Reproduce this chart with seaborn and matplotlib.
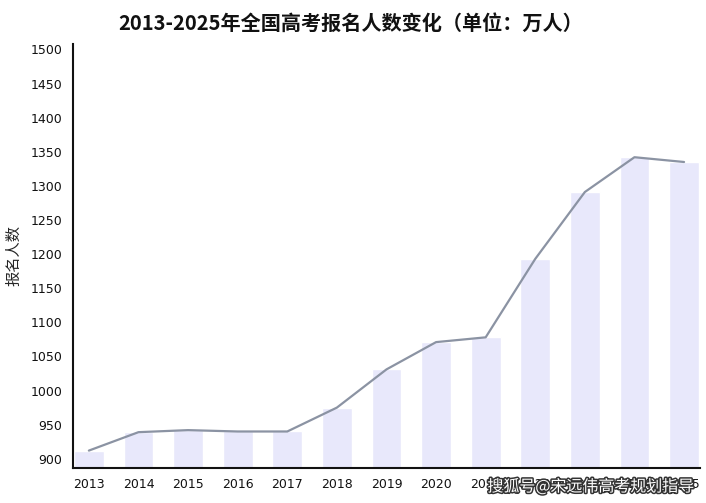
import numpy as np
import pandas as pd
import matplotlib
matplotlib.use("Agg")
import matplotlib.pyplot as plt
import matplotlib.patheffects as pe
import seaborn as sns

# data (万人)
years = ['2013', '2014', '2015', '2016', '2017', '2018', '2019',
         '2020', '2021', '2022', '2023', '2024', '2025']
applicants = [912, 939, 942, 940, 940, 975, 1031, 1071, 1078, 1193, 1291, 1342, 1335]
yticks = list(range(900, 1501, 50))

df = pd.DataFrame({'year': years, 'count': applicants})

sns.set_theme(style='white')
plt.rcParams['font.family'] = ['Noto Sans CJK SC', 'DejaVu Sans']

fig = plt.figure(figsize=(7.06, 5.03), dpi=100)
ax = fig.add_axes([0.1034, 0.0696, 0.888, 0.843])

sns.barplot(data=df, x='year', y='count', color='#E8E8FB', saturation=1,
            width=0.6, ax=ax)
sns.lineplot(x=np.arange(len(years)), y=df['count'], color='#8B93A3',
             linewidth=1.6, ax=ax)

ax.set_xlim(-0.32, len(years) - 1 + 0.32)
ax.set_ylim(886.5, 1508)
ax.set_yticks(yticks)
ax.set_xlabel('')
ax.set_ylabel('报名人数', fontsize=11, labelpad=6)

for s in ['top', 'right']:
    ax.spines[s].set_visible(False)
for s in ['left', 'bottom']:
    ax.spines[s].set_color('#111111')
    ax.spines[s].set_linewidth(1.5)
ax.tick_params(axis='both', direction='out', length=4, width=1.5,
               color='#111111', labelsize=9, labelcolor='#111111')
for lab in ax.get_xticklabels() + ax.get_yticklabels():
    lab.set_family('DejaVu Sans')

fig.suptitle('2013-2025年全国高考报名人数变化（单位：万人）', x=0.497, y=0.975,
             fontsize=14.5, fontweight='bold', color='#111111')

# watermark
fig.text(0.837, 0.032, '搜狐号@宋远伟高考规划指导', fontsize=11.5, color='white',
         ha='center', va='center',
         path_effects=[pe.withStroke(linewidth=2.2, foreground='#333333')])

fig.savefig('out.png', dpi=100)
